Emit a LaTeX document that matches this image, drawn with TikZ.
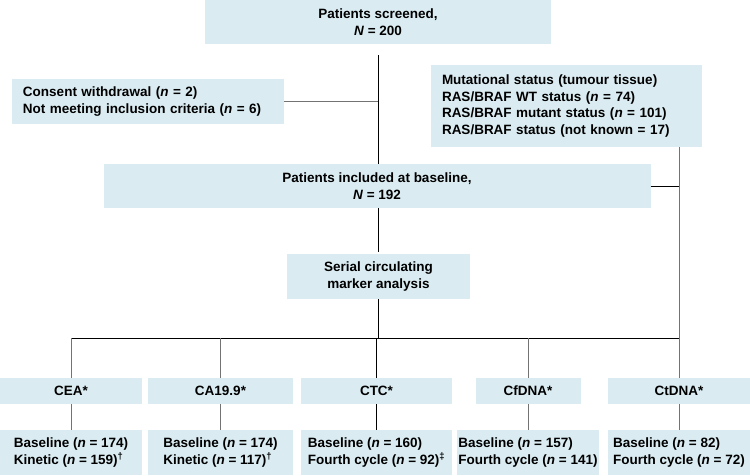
\documentclass[tikz,border=0pt]{standalone}
\usepackage{fontspec}
\setmainfont{Liberation Sans}
\usetikzlibrary{calc}
\definecolor{boxblue}{RGB}{218,236,242}
\definecolor{linegray}{RGB}{115,115,115}
\tikzset{
  box/.style={
    fill=boxblue,
    draw=none,
    inner sep=0pt,
    font=\bfseries\fontsize{13.5}{16.5}\selectfont,
    align=center
  },
  listbox/.style={box, align=left},
  link/.style={line width=0.9pt, black},
  greylink/.style={line width=1pt, linegray}
}
\newcommand{\nn}{\textit{n}}

\begin{document}
\begin{tikzpicture}[x=1pt,y=-1pt]
  \useasboundingbox (0,0) rectangle (750,475);
  % upper part
  \node[box, minimum width=346pt, minimum height=44pt] (screen) at (378,22)
    {Patients screened,\\\textit{N} = 200};
  \node[listbox, text width=250pt, inner xsep=11pt, minimum height=45pt] (consent) at (148,101.5)
    {Consent withdrawal (\nn{} = 2)\\Not meeting inclusion criteria (\nn{} = 6)};
  \node[listbox, text width=249pt, inner xsep=11pt, minimum height=82pt] (mut) at (566.5,106)
    {Mutational status (tumour tissue)\\RAS/BRAF WT status (\nn{} = 74)\\
     RAS/BRAF mutant status (\nn{} = 101)\\RAS/BRAF status (not known = 17)};
  \node[box, minimum width=547pt, minimum height=44pt] (base) at (377,186)
    {Patients included at baseline,\\\textit{N} = 192};
  \node[box, minimum width=183pt, minimum height=45pt] (serial) at (378.5,276.5)
    {Serial circulating\\marker analysis};
  \coordinate (bar) at (679,338);

  % marker columns
  \foreach \nm/\cx/\wt/\lab in {cea/71/142/CEA*, ca/220.5/145/CA19.9*,
      ctc/376.5/151/CTC*, cfdna/528/105/CfDNA*, ctdna/679/142/CtDNA*} {
    \node[box, minimum width=\wt pt, minimum height=26pt] (\nm) at (\cx,391) {\lab};
  }
  \foreach \nm/\cx/\wb/\txt in {
    cea/71/142/{Baseline (\nn{} = 174)\\Kinetic (\nn{} = 159)\textsuperscript{\dag}},
    ca/220.5/145/{Baseline (\nn{} = 174)\\Kinetic (\nn{} = 117)\textsuperscript{\dag}},
    ctc/376.5/151/{Baseline (\nn{} = 160)\\Fourth cycle (\nn{} = 92)\textsuperscript{\ddag}},
    cfdna/528/142/{Baseline (\nn{} = 157)\\Fourth cycle (\nn{} = 141)},
    ctdna/679/142/{Baseline (\nn{} = 82)\\Fourth cycle (\nn{} = 72)}} {
    \node[listbox, minimum width=\wb pt, minimum height=45pt] (\nm-b) at (\cx,452.5) {\txt};
  }

  % connectors
  \draw[link, shorten <=11pt] (screen.south) -- (screen.south |- base.north);
  \draw[greylink] (consent.east) -- (consent.east -| screen.south);
  \draw[link, shorten >=2pt] (base.south -| serial.north) -- (serial.north);
  \draw[link] (serial.south) -- (serial.south |- bar);
  \draw[link] (base.east) -- (base.east -| bar);
  \draw[greylink] (mut.south -| bar) -- (bar);
  \draw[link] (cea.north |- bar) -- (bar);
  \foreach \nm/\st in {cea/greylink, ca/greylink, ctc/link, cfdna/greylink, ctdna/greylink} {
    \draw[\st] (\nm.north |- bar) -- (\nm.north);
    \draw[\st] (\nm.south) -- (\nm-b.north);
  }
\end{tikzpicture}
\end{document}
